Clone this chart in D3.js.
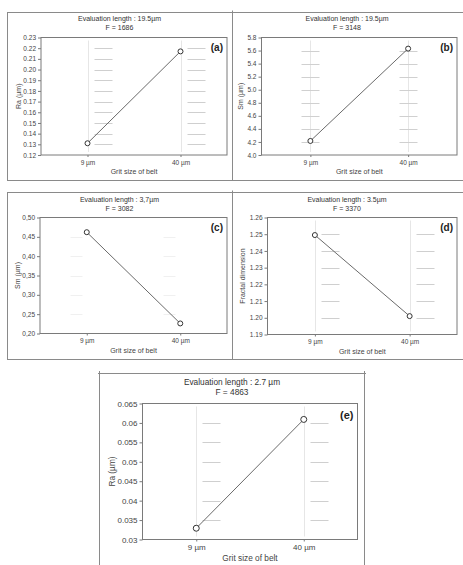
<!DOCTYPE html>
<html>
<head>
<meta charset="utf-8">
<script src="https://cdn.jsdelivr.net/npm/d3@7"></script>
<style>
  body { margin: 0; background: #fff; }
  svg { display: block; font-family: "Liberation Sans", Arial, sans-serif; }
</style>
</head>
<body>
<div id="chart"></div>
<script>
// categories shared by every panel
const categories = ['9 µm', '40 µm'];

// means
const raLong = [0.131, 0.217];      // (a) Ra, 19.5 µm
const smLong = [4.215, 5.63];       // (b) Sm, 19.5 µm
const smShort = [0.462, 0.226];     // (c) Sm, 3.7 µm
const fractalDim = [1.2495, 1.201]; // (d) fractal dimension, 3.5 µm
const raShort = [0.0329, 0.0609];   // (e) Ra, 2.7 µm

// y tick values
const ticksA = [0.12, 0.13, 0.14, 0.15, 0.16, 0.17, 0.18, 0.19, 0.20, 0.21, 0.22, 0.23];
const ticksB = [4.0, 4.2, 4.4, 4.6, 4.8, 5.0, 5.2, 5.4, 5.6, 5.8];
const ticksC = [0.20, 0.25, 0.30, 0.35, 0.40, 0.45, 0.50];
const ticksD = [1.19, 1.20, 1.21, 1.22, 1.23, 1.24, 1.25, 1.26];
const ticksE = [0.03, 0.035, 0.04, 0.045, 0.05, 0.055, 0.06, 0.065];

const evalLengths = ['Evaluation length : 19.5µm', 'Evaluation length : 19.5µm', 'Evaluation length : 3,7µm', 'Evaluation length : 3.5µm', 'Evaluation length : 2.7 µm'];
const fValues = ['F = 1686', 'F = 3148', 'F = 3082', 'F = 3370', 'F = 4863'];
const yTitles = ['Ra (µm)', 'Sm (µm)', 'Sm (µm)', 'Fractal dimension', 'Ra (µm)'];
const letters = ['(a)', '(b)', '(c)', '(d)', '(e)'];

const W = 463, H = 565;
const svg = d3.select('#chart').append('svg').attr('width', W).attr('height', H);

const f2 = d3.format('.2f');
const f1 = d3.format('.1f');
const comma2 = v => f2(v).replace('.', ',');

// panel layout (pixels)
const panels = [
    { values: raLong, ticks: ticksA, fmt: f2, left: 41, right: 227, top: 37.5, bottom: 155, cx: 119.5, titleY: 19, yTitleX: 19, fs: 6.5, r: 2.5, seg: 'right' },
    { values: smLong, ticks: ticksB, fmt: f1, left: 261.5, right: 457, top: 37.5, bottom: 155, cx: 347, titleY: 19, yTitleX: 241, fs: 6.5, r: 2.5, seg: 'cross' },
    { values: smShort, ticks: ticksC, fmt: comma2, left: 40, right: 227, top: 217.5, bottom: 333.5, cx: 119.5, titleY: 200, yTitleX: 18, fs: 6.5, r: 2.5, seg: 'faint' },
    { values: fractalDim, ticks: ticksD, fmt: f2, left: 267.5, right: 457, top: 217.5, bottom: 334.5, cx: 347, titleY: 200, yTitleX: 243, fs: 6.5, r: 2.5, seg: 'right' },
    { values: raShort, ticks: ticksE, fmt: d => String(d), left: 142.5, right: 357.5, top: 403.5, bottom: 539.5, cx: 232, titleY: 382.5, yTitleX: 112, fs: 8, r: 3, seg: 'right' }
];

// outer frames
const frame = svg.append('g').attr('stroke', '#8a8a8a').attr('stroke-width', 1).attr('fill', 'none');
[[12.5, 180.5], [192.5, 359.5]].forEach(([t, b]) => {
    frame.append('line').attr('x1', 7).attr('x2', W).attr('y1', t).attr('y2', t);
    frame.append('line').attr('x1', 7).attr('x2', W).attr('y1', b).attr('y2', b);
    frame.append('line').attr('x1', 7.5).attr('x2', 7.5).attr('y1', t).attr('y2', b);
    frame.append('line').attr('x1', 232.5).attr('x2', 232.5).attr('y1', t - 2).attr('y2', b);
});
frame.append('line').attr('x1', 98).attr('x2', 366).attr('y1', 373.5).attr('y2', 373.5);
frame.append('line').attr('x1', 99.5).attr('x2', 99.5).attr('y1', 371).attr('y2', H);
frame.append('line').attr('x1', 364.5).attr('x2', 364.5).attr('y1', 371).attr('y2', H);

panels.forEach((p, i) => {
    const g = svg.append('g');
    const x = d3.scalePoint().domain(categories).range([p.left, p.right]).padding(0.5);
    const y = d3.scaleLinear().domain(d3.extent(p.ticks)).range([p.bottom, p.top]);
    const inner = p.ticks.slice(1, -1);
    const big = p.fs > 7;
    const tfs = big ? 8.3 : 7;

    // faded grid remnants
    const grid = g.append('g').attr('stroke-width', 1);
    categories.forEach(c => {
        const cx = Math.round(x(c)) + 0.5;
        if (p.seg !== 'faint') {
            grid.append('line').attr('x1', cx).attr('x2', cx).attr('y1', p.top + 3).attr('y2', p.bottom - 3)
                .attr('stroke', '#e6e6e6');
        }
        inner.forEach(t => {
            const yy = Math.round(y(t)) + 0.5;
            let x1, x2, col;
            if (p.seg === 'cross') { x1 = cx - 9; x2 = cx + 9; col = '#d0d0d0'; }
            else if (p.seg === 'faint') { x1 = cx - 17; x2 = cx - 5; col = '#f0f0f0'; }
            else { x1 = cx + 6; x2 = cx + 24; col = '#cfcfcf'; }
            grid.append('line').attr('x1', x1).attr('x2', x2).attr('y1', yy).attr('y2', yy).attr('stroke', col);
        });
    });

    // plot box
    g.append('rect').attr('x', p.left).attr('y', p.top)
        .attr('width', p.right - p.left).attr('height', p.bottom - p.top)
        .attr('fill', 'none').attr('stroke', '#7a7a7a');

    // y axis
    const ya = g.append('g').attr('transform', `translate(${p.left},0)`)
        .call(d3.axisLeft(y).tickValues(p.ticks).tickFormat(p.fmt).tickSize(3).tickPadding(2))
        .attr('font-family', null).attr('font-size', null);
    ya.select('.domain').remove();
    ya.selectAll('line').attr('stroke', '#7a7a7a');
    ya.selectAll('text').attr('font-size', p.fs).attr('fill', '#444');

    // x axis
    const xa = g.append('g').attr('transform', `translate(0,${p.bottom})`)
        .call(d3.axisBottom(x).tickSize(2).tickPadding(3))
        .attr('font-family', null).attr('font-size', null);
    xa.select('.domain').remove();
    xa.selectAll('line').attr('stroke', '#7a7a7a');
    xa.selectAll('text').attr('font-size', p.fs).attr('fill', '#444');

    // titles
    g.append('text').attr('x', p.cx).attr('y', p.titleY).attr('dy', '0.35em')
        .attr('text-anchor', 'middle').attr('font-size', tfs).attr('fill', '#333').text(evalLengths[i]);
    g.append('text').attr('x', p.cx).attr('y', p.titleY + (big ? 9.3 : 8.6)).attr('dy', '0.35em')
        .attr('text-anchor', 'middle').attr('font-size', tfs).attr('fill', '#333').text(fValues[i]);
    g.append('text').attr('x', (p.left + p.right) / 2).attr('y', p.bottom + (big ? 19 : 17)).attr('dy', '0.35em')
        .attr('text-anchor', 'middle').attr('font-size', tfs).attr('fill', '#444').text('Grit size of belt');
    g.append('text')
        .attr('transform', `translate(${p.yTitleX},${(p.top + p.bottom) / 2}) rotate(-90)`)
        .attr('dy', '0.35em').attr('text-anchor', 'middle').attr('font-size', tfs).attr('fill', '#444')
        .text(yTitles[i]);
    g.append('text').attr('x', p.right - 4).attr('y', p.top + (big ? 15 : 13))
        .attr('text-anchor', 'end').attr('font-size', big ? 11 : 10).attr('font-weight', 'bold')
        .attr('fill', '#222').text(letters[i]);

    // main effect line and means
    const pts = categories.map((c, k) => [x(c), y(p.values[k])]);
    g.append('path').attr('d', d3.line()(pts)).attr('fill', 'none').attr('stroke', '#6a6a6a').attr('stroke-width', 1);
    g.selectAll('circle.m').data(pts).join('circle').attr('class', 'm')
        .attr('cx', d => d[0]).attr('cy', d => d[1]).attr('r', p.r)
        .attr('fill', '#fff').attr('stroke', '#333').attr('stroke-width', 1);
});
</script>
</body>
</html>
